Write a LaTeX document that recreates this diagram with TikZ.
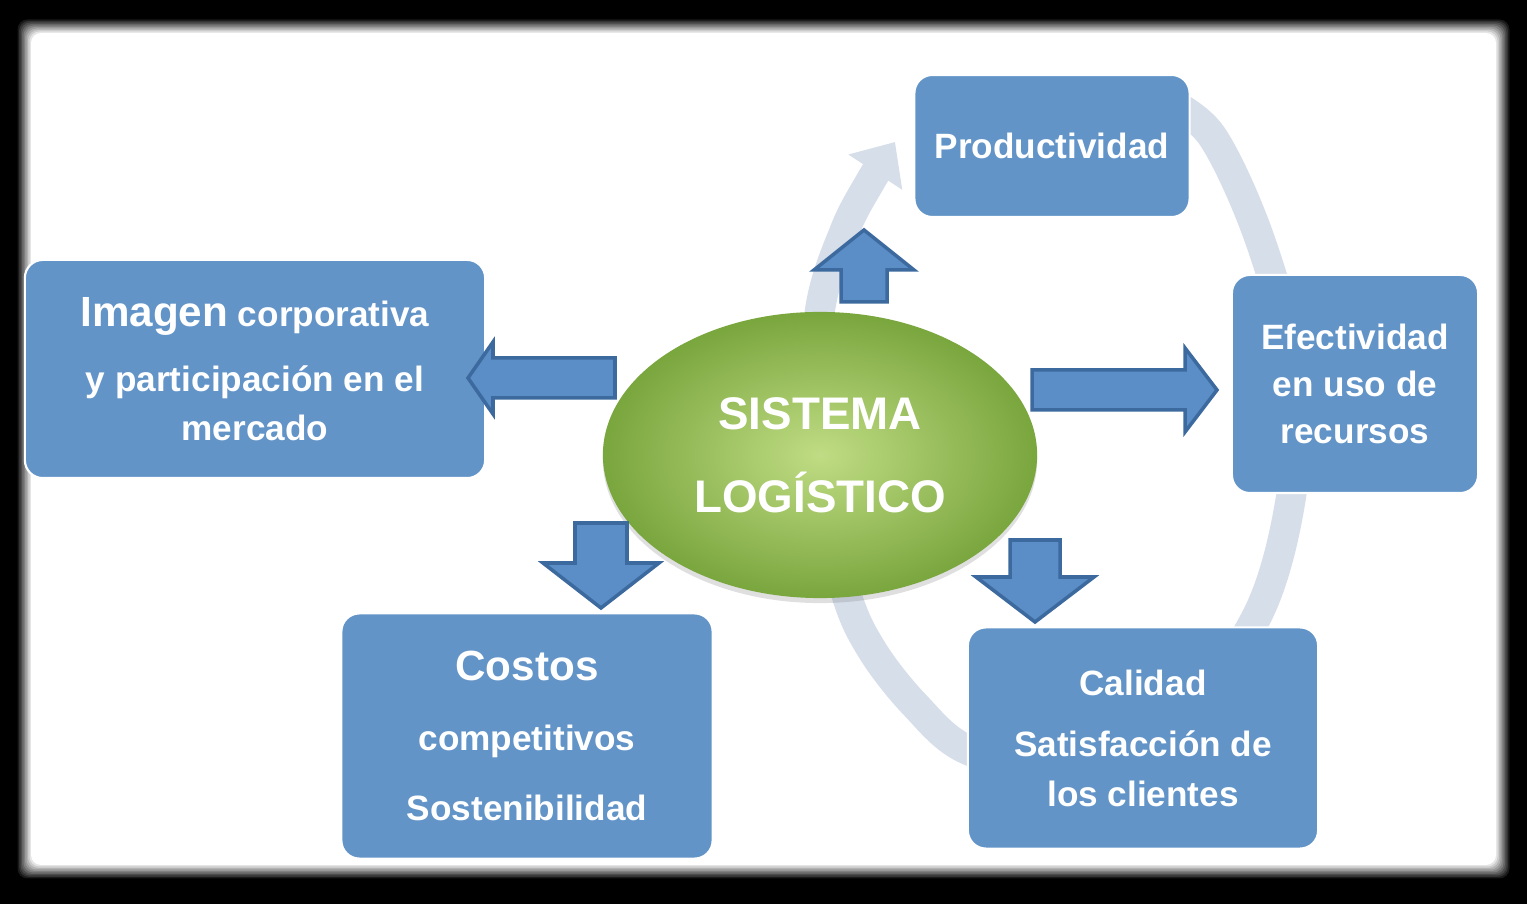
\documentclass[tikz,border=0pt]{standalone}
\usepackage{fontspec}
\setmainfont{Liberation Sans}
\usetikzlibrary{shapes.geometric,arrows.meta,shadows}

\definecolor{boxblue}{RGB}{98,148,200}
\definecolor{arrowblue}{RGB}{91,141,198}
\definecolor{arrowedge}{RGB}{60,106,158}
\definecolor{loopgray}{RGB}{214,222,234}
\definecolor{greenin}{RGB}{192,220,132}
\definecolor{greenout}{RGB}{122,166,62}

% tail, angle, length, shaft half width, head half width, head length
\newcommand{\blockarrow}[6]{%
  \draw[blockarr, shift={(#1)}, rotate=#2] (0,-#4) -- (#3-#6,-#4) -- (#3-#6,-#5) -- (#3,0)
    -- (#3-#6,#5) -- (#3-#6,#4) -- (0,#4) -- cycle;}

\begin{document}
\begin{tikzpicture}[x=0.01cm,y=-0.01cm]
		\tikzstyle{box}=[rectangle,rounded corners=0.18cm,fill=boxblue,draw=white,line width=0.6pt,text=white,align=center,inner sep=0pt,font=\bfseries\fontsize{10}{14}\selectfont]
		\tikzstyle{core}=[ellipse,shading=radial,inner color=greenin,outer color=greenout,text=white,align=center,inner sep=0pt,minimum width=4.34cm,minimum height=2.86cm,font=\bfseries\fontsize{13}{23.6}\selectfont,drop shadow={opacity=0.25,shadow xshift=0pt,shadow yshift=-0.05cm}]
		\tikzstyle{blockarr}=[draw=arrowedge,fill=arrowblue,line width=1pt,line join=miter]
		\tikzstyle{loop}=[draw=loopgray,line width=0.3cm,-{Triangle[width=0.62cm,length=0.36cm]}]
		\useasboundingbox (0,0) rectangle (1527,904);
		% frame
		\fill[black] (0,0) rectangle (1527,904);
		\foreach \i in {0,...,10}
		{\pgfmathtruncatemacro{\g}{\i*10}
			\fill[white!\g!black,rounded corners=0.1cm] (16+1.5*\i,18+1.5*\i) rectangle (1511-1.5*\i,880-1.5*\i);}
		
		% cycle in the back
		\draw[loop] plot[smooth,tension=0.55] coordinates {(1165,100) (1212,136) (1260,240) (1297,380) (1290,503) (1257,616) (1180,720) (1070,772) (968,750) (915,705) (872,650) (845,590) (812,450) (820,310) (845,230) (870,182) (895,142)};
		
		\node[box,minimum width=2.75cm,minimum height=1.42cm] (prod) at (1052,146) {Productividad};
		\node[box,minimum width=4.6cm,minimum height=2.18cm] (imag) at (255,369) {{\fontsize{12}{14}\selectfont Imagen} corporativa\\[4.5pt] y participación en el\\ mercado};
		\node[box,minimum width=2.46cm,minimum height=2.18cm,font=\bfseries\fontsize{10}{13.4}\selectfont] (efec) at (1355,384) {Efectividad\\ en uso de\\ recursos};
		\node[box,minimum width=3.71cm,minimum height=2.45cm,font=\bfseries\fontsize{10}{20}\selectfont] (cost) at (527,736) {{\fontsize{12}{14}\selectfont Costos}\\ competitivos\\ Sostenibilidad};
		\node[box,minimum width=3.5cm,minimum height=2.21cm] (cali) at (1143,738) {Calidad\\[3.6pt] Satisfacción de\\ los clientes};
		\node[core] (sist) at (820,455) {SISTEMA\\ LOGÍSTICO};
		
		\coordinate (a-prod) at (864,302);
		\coordinate (a-imag) at (615,378);
		\coordinate (a-efec) at (1032,390);
		\coordinate (a-cost) at (601,523);
		\coordinate (a-cali) at (1035,540);
		\blockarrow{a-prod}{90}{72}{23}{50}{40}
		\blockarrow{a-imag}{180}{147}{20}{36}{25}
		\blockarrow{a-efec}{0}{185}{20}{42}{32}
		\blockarrow{a-cost}{-90}{85}{26}{58}{45}
		\blockarrow{a-cali}{-90}{82}{25}{59}{45}
		
\end{tikzpicture}
\end{document}
